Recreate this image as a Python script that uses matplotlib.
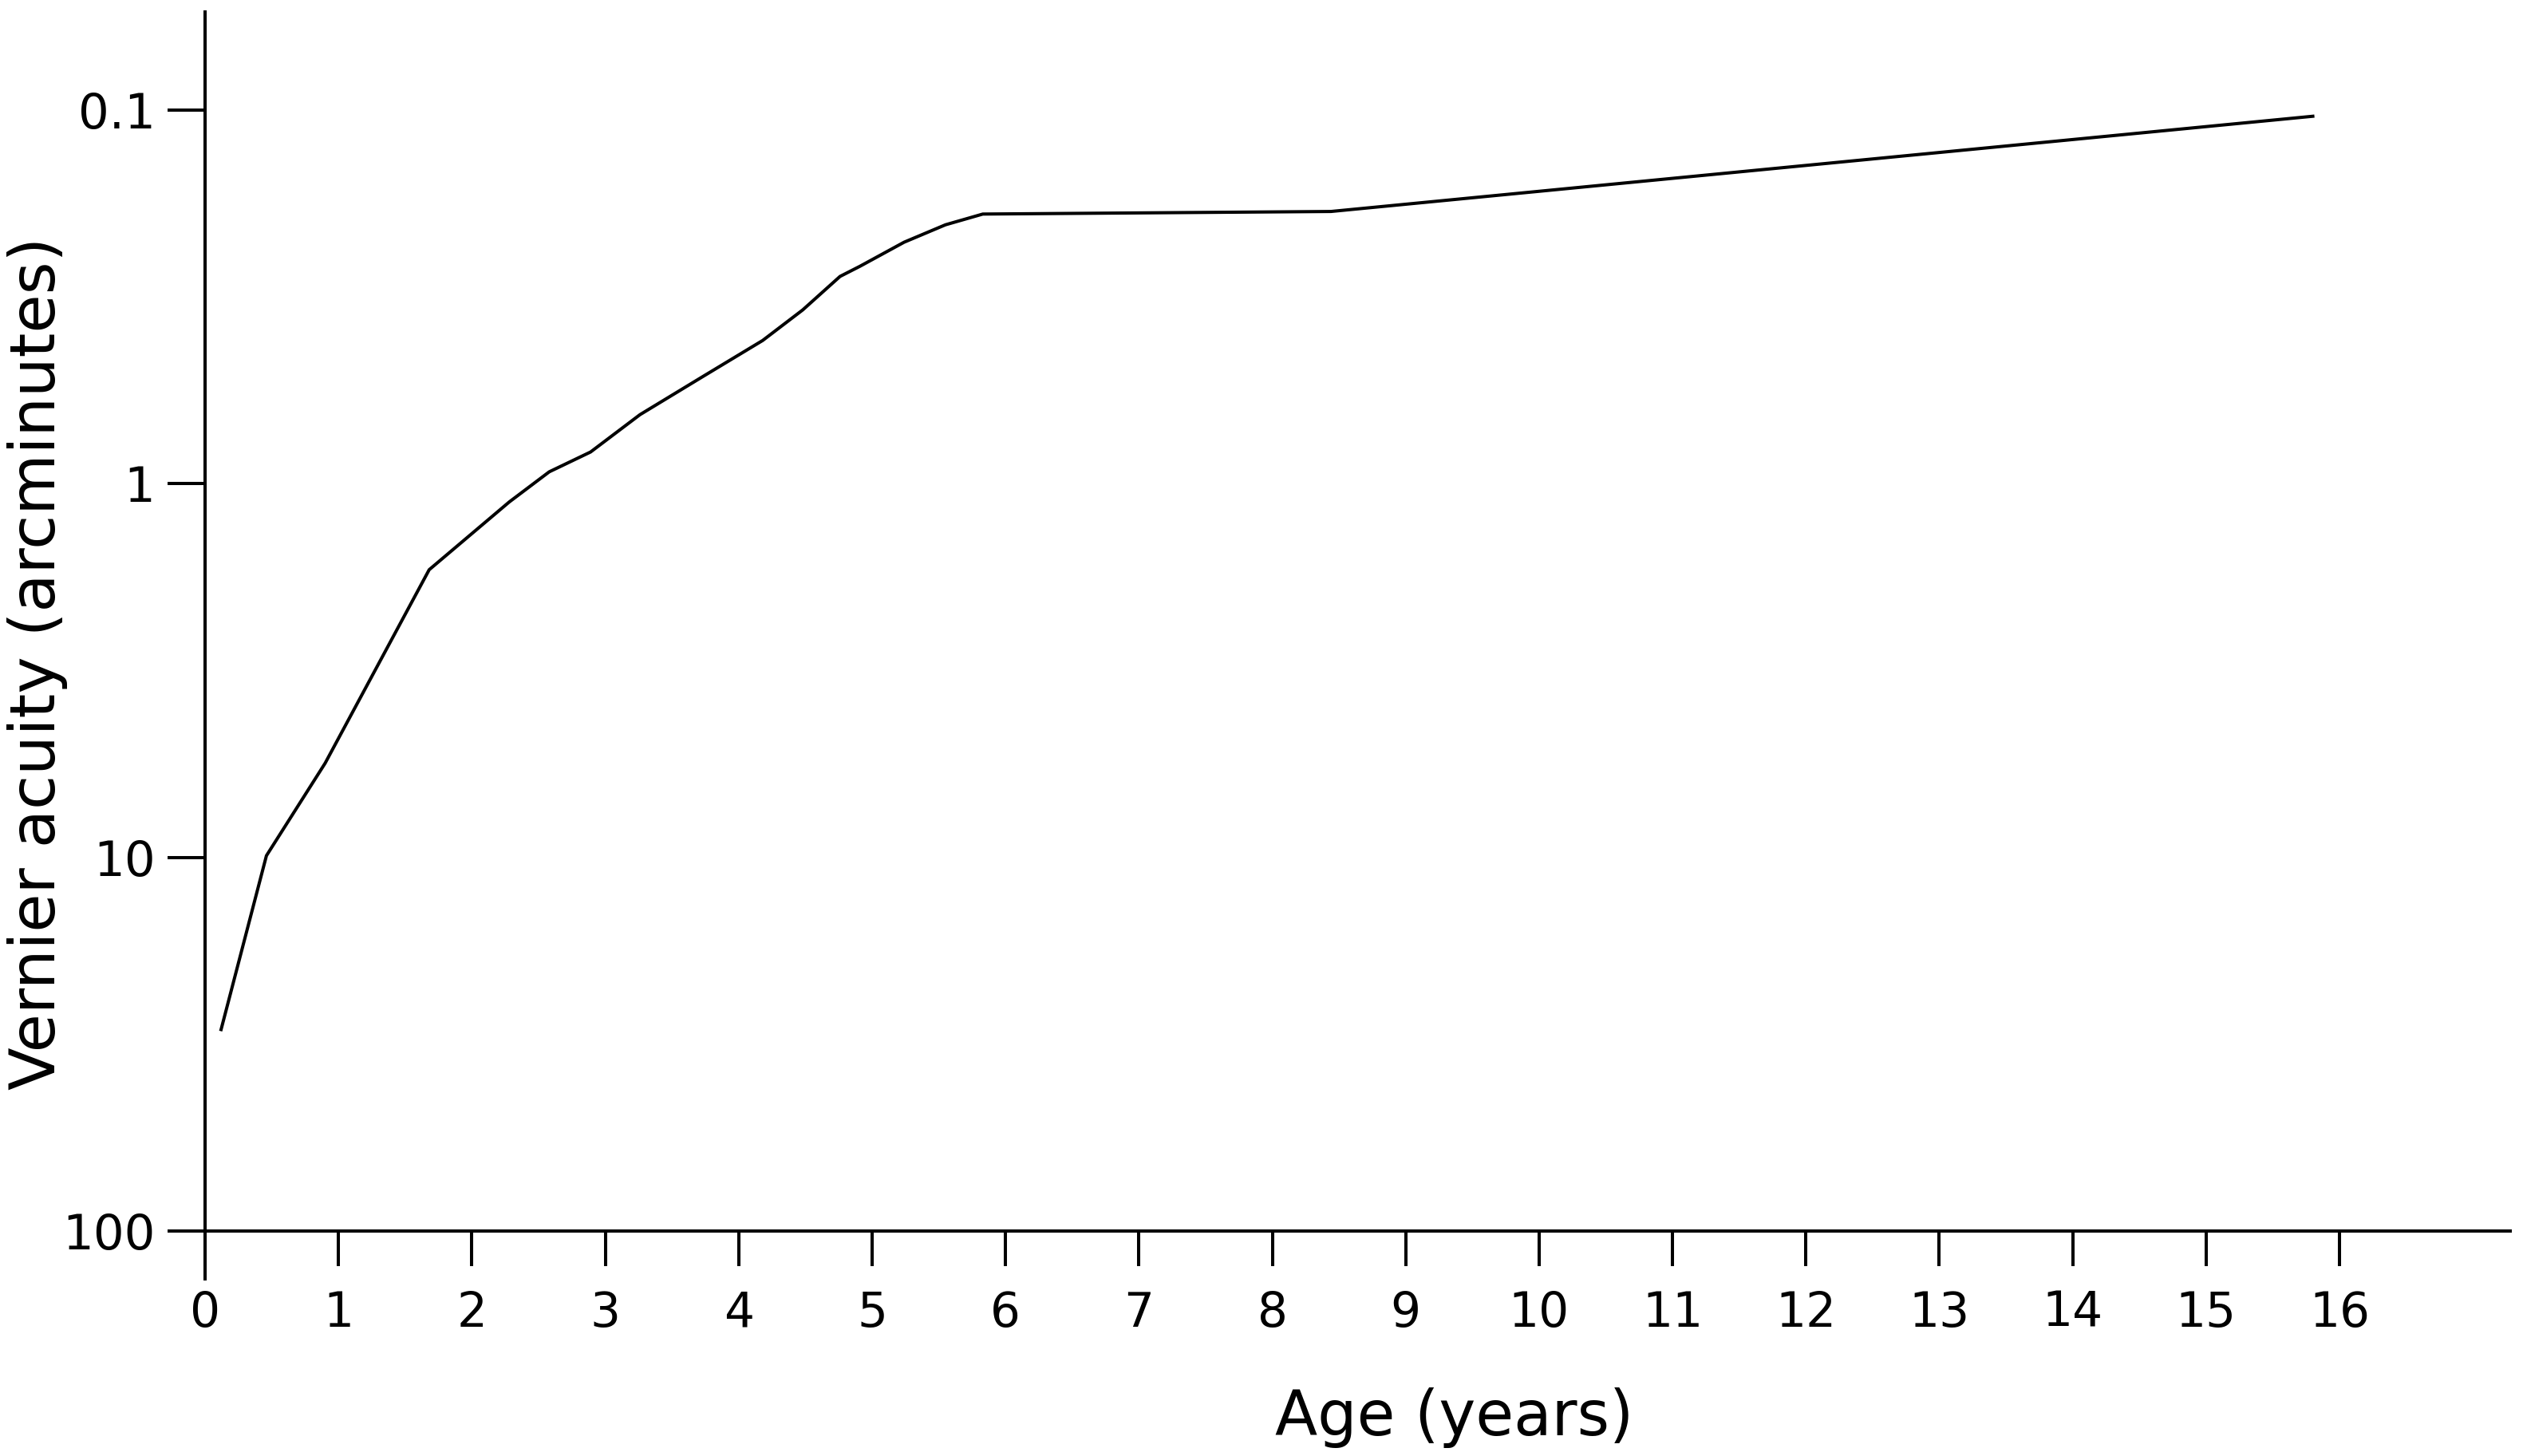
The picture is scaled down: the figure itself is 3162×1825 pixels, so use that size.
import matplotlib
matplotlib.use("Agg")
import matplotlib.pyplot as plt
from matplotlib.ticker import FixedLocator, FixedFormatter, NullLocator

# Data
age = [0.12, 0.46, 0.90, 1.68, 2.28, 2.58, 2.89, 3.26, 3.72, 4.18, 4.48,
       4.76, 4.91, 5.24, 5.55, 5.83, 8.44, 15.80]
acuity = [28.9, 9.9, 5.6, 1.70, 1.12, 0.93, 0.823, 0.654, 0.520, 0.414, 0.343,
          0.279, 0.262, 0.226, 0.203, 0.190, 0.187, 0.104]

x_ticks = list(range(0, 17))
x_tick_labels = [str(v) for v in x_ticks]
y_ticks = [0.1, 1, 10, 100]
y_tick_labels = ["0.1", "1", "10", "100"]

plt.rcParams['font.family'] = ['DejaVu Sans']

fig = plt.figure(figsize=(31.62, 18.25), dpi=100)
ax = fig.add_axes([0.08128, 0.15452, 0.91366, 0.83726])

ax.plot(age, acuity, color='black', linewidth=2.9, solid_joinstyle='round')

ax.set_yscale('log')
ax.set_ylim(100, 0.0547)
ax.set_xlim(0, 17.28)

ax.xaxis.set_major_locator(FixedLocator(x_ticks))
ax.xaxis.set_major_formatter(FixedFormatter(x_tick_labels))
ax.yaxis.set_major_locator(FixedLocator(y_ticks))
ax.yaxis.set_major_formatter(FixedFormatter(y_tick_labels))
ax.yaxis.set_minor_locator(NullLocator())
ax.xaxis.set_minor_locator(NullLocator())

for s in ['top', 'right']:
    ax.spines[s].set_visible(False)
for s in ['left', 'bottom']:
    ax.spines[s].set_linewidth(2.9)
    ax.spines[s].set_color('black')
ax.spines['left'].set_bounds(134, 0.0547)

ax.tick_params(axis='x', direction='out', length=32, width=2.9, pad=21,
               labelsize=43, colors='black')
ax.tick_params(axis='y', direction='out', length=34, width=2.9, pad=11,
               labelsize=44, colors='black')

ax.set_xlabel('Age (years)', fontsize=56, color='black')
ax.xaxis.set_label_coords(0.542, -0.128)
ax.set_ylabel('Vernier acuity (arcminutes)', fontsize=56.5, color='black')
ax.yaxis.set_label_coords(-0.0595, 0.466)

fig.savefig('out.png', dpi=100, facecolor='white')
